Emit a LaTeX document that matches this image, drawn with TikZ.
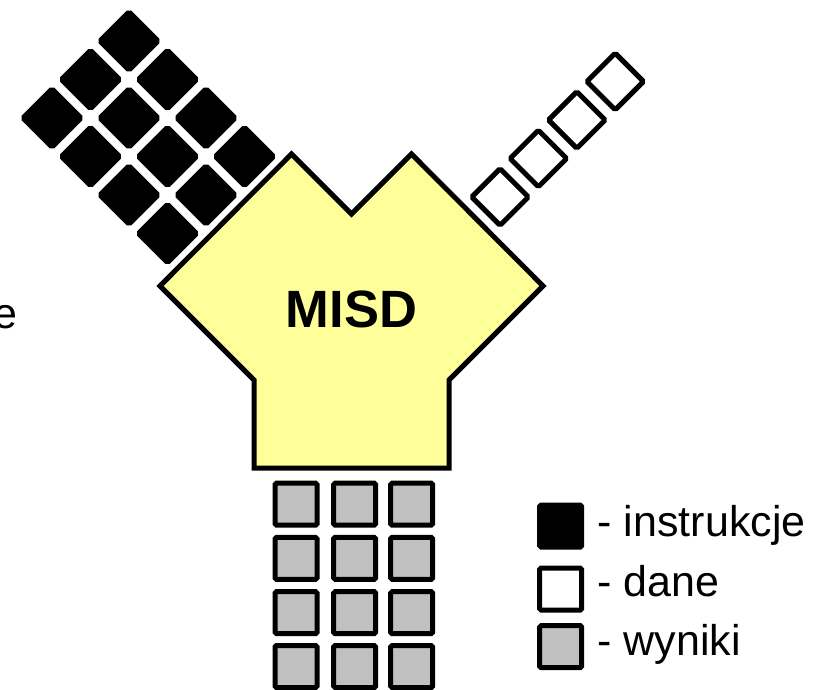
\documentclass[tikz,border=0pt]{standalone}
\usepackage{fontspec}
\setmainfont{Liberation Sans}
\usetikzlibrary{positioning}
\definecolor{misdyellow}{RGB}{255,255,153}
\definecolor{resgray}{RGB}{192,192,192}
\tikzset{
  cell/.style={draw=black, line width=5pt, minimum size=42pt, inner sep=0pt, rounded corners=1.5pt},
  keytext/.style={anchor=base west, inner sep=0pt, font=\fontsize{43}{48}\selectfont},
}
\begin{document}
\begin{tikzpicture}[x=1pt,y=-1pt]
  \useasboundingbox (0,0) rectangle (821,689);
  \foreach \i in {0,...,3}
    \foreach \j in {0,1,2}
      \node[cell, fill=black, rotate=45, minimum size=41pt] (instr-\i-\j) at ({52+38.5*(\i+\j)},{118+38.5*(\i-\j)}) {};
  \foreach \k in {0,...,3}
    \node[cell, fill=white, rotate=45, minimum size=40pt] (data-\k) at ({500+38.4*\k},{197-38.5*\k}) {};
  \draw[fill=misdyellow, line width=5pt, line join=miter] (291.5,154) -- (351.5,214) -- (411.5,154) -- (543,286) -- (449,380)
    -- (449,468) -- (254,468) -- (254,380) -- (160,286) -- cycle;
  \node[anchor=base, inner sep=0pt, font=\fontsize{52.5}{60}\selectfont\bfseries] (misd) at (351.5,327) {MISD};
  \foreach \i/\x in {0/296,1/354.7,2/411.7}
    \foreach \j/\y in {0/504.2,1/558.3,2/612.7,3/666.5}
      \node[cell, fill=resgray] (res-\i-\j) at (\x,\y) {};
  \node[cell, fill=black] (key-instr) at (560.7,526) {};
  \node[cell, fill=white] (key-data) at (560.7,589) {};
  \node[cell, fill=resgray] (key-res) at (560.7,646.7) {};
  \node[keytext] (txt-instr) at (597.5,536.7) {- instrukcje};
  \node[keytext] (txt-data) at (597.5,596) {- dane};
  \node[keytext] (txt-res) at (597.5,655.7) {- wyniki};
  \node[keytext] (cut) at (-6.5,328.5) {e};
\end{tikzpicture}
\end{document}
